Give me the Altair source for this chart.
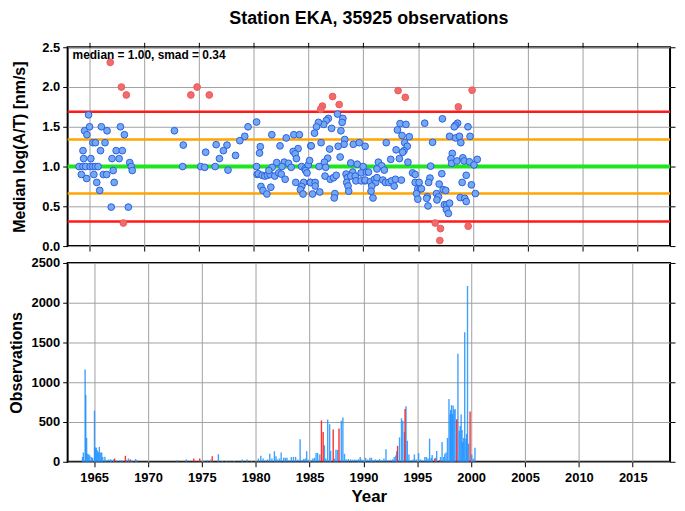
import altair as alt
import pandas as pd

FONT = "Liberation Sans"

# ---------------- scatter: monthly median log(A/T) ----------------
blue_year = [1964.91, 1964.55, 1965.0, 1964.76, 1966.08, 1966.6, 1967.82, 1968.18, 1965.3, 1965.54,
             1966.41, 1964.4, 1966.0, 1967.43, 1967.99, 1964.46, 1965.12, 1967.05, 1967.7, 1968.67,
             1964.04, 1964.4, 1964.64, 1965.06, 1965.3, 1965.54, 1965.78, 1968.81, 1968.9, 1967.16,
             1964.25, 1966.26, 1966.56, 1965.39, 1964.73, 1967.25, 1965.66, 1965.93, 1966.98, 1968.54,
             1972.75, 1973.56, 1973.5, 1975.15, 1975.51, 1976.47, 1977.64, 1975.6, 1976.56, 1977.55,
             1977.22, 1976.86, 1978.33, 1978.72, 1979.17, 1979.47,
             1980.25, 1980.25, 1980.3, 1981.64, 1982.96, 1983.65, 1984.16, 1980.59, 1980.52, 1982.39,
             1984.04, 1983.59, 1983.77, 1983.89, 1985.2, 1982.09, 1981.67, 1982.78, 1983.17, 1982.57,
             1983.41, 1984.37, 1984.67, 1984.97, 1985.09, 1980.4, 1980.76, 1981.0, 1981.24, 1981.49,
             1981.91, 1981.37, 1982.27, 1982.5, 1982.86, 1983.83, 1984.55, 1984.37, 1984.25, 1984.73,
             1984.85, 1985.15, 1980.65, 1980.83, 1981.19, 1981.55, 1984.49,
             1987.64, 1986.8, 1986.62, 1986.38, 1985.9, 1985.72, 1985.54, 1987.1, 1987.95, 1988.13,
             1988.06, 1988.3, 1988.24, 1987.7, 1986.92, 1986.14, 1985.24, 1989.08, 1989.62, 1990.16,
             1987.88, 1986.74, 1986.44, 1985.96, 1986.56, 1988.85, 1989.44, 1989.98, 1989.03, 1989.8,
             1990.29, 1988.42, 1988.54, 1988.85, 1989.26, 1986.5, 1986.98, 1987.28, 1987.52, 1985.18,
             1985.6, 1985.6, 1989.32, 1989.8, 1990.16, 1988.48, 1988.6, 1988.66, 1985.36, 1986.02,
             1987.4, 1987.34,
             1993.35, 1993.89, 1993.11, 1993.53, 1994.19, 1993.77, 1994.01, 1993.71, 1993.59, 1992.99,
             1992.09, 1992.5, 1993.29, 1994.07, 1991.37, 1991.67, 1991.91, 1990.47, 1991.24, 1994.49,
             1994.73, 1990.16, 1990.65, 1991.01, 1991.13, 1991.24, 1991.78, 1992.02, 1992.32, 1992.57,
             1992.93, 1993.47, 1992.81, 1990.77, 1990.7, 1990.88, 1994.73, 1995.09, 1994.97, 1995.2,
             1994.85, 1994.97,
             1997.22, 1995.6, 1998.6, 1998.42, 1998.3, 1999.55, 1997.87, 1998.42, 1998.77, 1999.74,
             1998.9, 1996.32, 1998.12, 1998.0, 1998.06, 1998.54, 1999.08, 1999.2, 1999.68, 2000.4,
             1996.14, 2000.1, 1997.16, 1999.39, 1996.08, 1995.96, 1996.92, 1999.02, 1999.86, 1997.28,
             1997.52, 1995.3, 1996.68, 1996.86, 1995.84, 1995.78, 2000.23, 1998.84, 1999.26, 1999.39,
             1995.9, 1997.4, 1997.62, 1997.87, 1997.58, 1997.76, 1996.72]
blue_val = [1.65, 1.45, 1.50, 1.40, 1.50, 1.45, 1.50, 1.40, 1.30, 1.30,
            1.30, 1.20, 1.20, 1.20, 1.20, 1.10, 1.10, 1.10, 1.10, 1.05,
            1.00, 1.00, 1.00, 1.00, 1.00, 1.00, 1.00, 1.00, 0.95, 0.95,
            0.90, 0.90, 0.90, 0.90, 0.85, 0.80, 0.80, 0.70, 0.49, 0.49,
            1.45, 1.27, 1.00, 1.00, 0.99, 1.00, 0.955, 1.18, 1.275, 1.27,
            1.20, 1.10, 1.14, 1.325, 1.38, 1.50,
            1.56, 1.00, 0.90, 1.40, 1.36, 1.40, 1.40, 1.25, 1.17, 1.26,
            1.225, 1.19, 1.16, 1.10, 1.26, 1.05, 0.99, 1.055, 1.04, 1.00,
            0.99, 1.00, 0.97, 1.02, 1.075, 0.91, 0.89, 0.88, 0.89, 0.90,
            0.88, 0.95, 0.92, 0.905, 0.84, 0.80, 0.80, 0.75, 0.71, 0.95,
            0.92, 0.80, 0.75, 0.70, 0.655, 0.74, 0.655,
            1.66, 1.605, 1.58, 1.53, 1.555, 1.50, 1.42, 1.48, 1.45, 1.605,
            1.555, 1.34, 1.28, 1.255, 1.22, 1.30, 1.26, 1.28, 1.30, 1.255,
            1.12, 1.105, 1.055, 1.00, 0.99, 1.045, 1.03, 1.00, 0.93, 0.92,
            0.93, 0.905, 0.86, 0.88, 0.88, 0.88, 0.84, 0.86, 0.89, 0.80,
            0.80, 0.755, 0.82, 0.82, 0.82, 0.80, 0.755, 0.69, 0.655, 0.68,
            0.66, 0.605,
            1.54, 1.53, 1.46, 1.39, 1.375, 1.30, 1.255, 1.20, 1.18, 1.21,
            1.30, 1.09, 1.10, 1.055, 1.055, 1.01, 0.955, 0.93, 0.97, 0.92,
            0.90, 0.83, 0.81, 0.84, 0.80, 0.86, 0.83, 0.80, 0.80, 0.82,
            0.84, 0.83, 0.755, 0.755, 0.69, 0.605, 0.80, 0.80, 0.72, 0.72,
            0.66, 0.59,
            1.60, 1.545, 1.545, 1.52, 1.50, 1.50, 1.38, 1.36, 1.38, 1.38,
            1.30, 1.305, 1.165, 1.10, 1.04, 1.07, 1.11, 1.07, 1.06, 1.09,
            1.005, 1.02, 0.91, 0.89, 0.855, 0.80, 0.78, 0.80, 0.77, 0.71,
            0.70, 0.72, 0.66, 0.62, 0.62, 0.60, 0.66, 0.61, 0.60, 0.56,
            0.505, 0.52, 0.52, 0.54, 0.46, 0.41, 0.58]

red_year = [1966.89, 1967.91, 1968.36, 1968.09, 1974.82, 1974.25, 1975.93, 1987.19, 1987.79, 1986.26,
            1986.1, 1993.17, 1993.83, 1999.93, 1998.67, 1996.56, 1997.04, 1996.98, 1999.57]
red_val = [2.31, 2.00, 1.90, 0.29, 2.00, 1.90, 1.90, 1.88, 1.78, 1.76,
           1.72, 1.955, 1.87, 1.96, 1.75, 0.29, 0.22, 0.07, 0.25]

median_line = [1.00]
smad1_lines = [1.34, 0.66]
smad2_lines = [1.69, 0.31]
annotation = ["median = 1.00, smad = 0.34"]

# ---------------- histogram: observations per month ----------------
bar_year = [1963.92, 1964.0, 1964.16, 1964.22, 1964.3, 1964.4, 1964.5, 1964.6, 1964.75, 1964.85,
            1965.03, 1965.1, 1965.2, 1965.3, 1965.4, 1965.48, 1965.6, 1965.7, 1965.8, 1966.0,
            1966.1, 1966.3, 1966.5, 1966.6, 1966.8, 1967.1, 1967.4, 1967.6, 1968.0, 1968.18,
            1968.5, 1968.85, 1968.95,
            1972.7, 1973.56, 1975.2, 1975.5, 1975.8, 1976.53, 1976.9, 1977.3, 1977.6, 1978.0,
            1978.75, 1979.2, 1979.6,
            1980.25, 1980.47, 1980.68, 1980.9, 1981.1, 1981.3, 1981.5, 1981.73, 1981.88, 1982.0,
            1982.2, 1982.36, 1982.6, 1982.75, 1982.9, 1983.1, 1983.3, 1983.5, 1983.7, 1983.9,
            1984.12, 1984.3, 1984.45, 1984.6, 1984.73, 1984.9, 1985.1, 1985.3, 1985.45, 1985.6,
            1985.75, 1985.95, 1986.38, 1986.5, 1986.68, 1986.86, 1986.95, 1987.3, 1987.45, 1987.6,
            1987.94, 1988.09, 1988.24, 1988.4, 1988.6, 1988.8, 1989.0, 1989.2, 1989.4, 1989.55,
            1989.7, 1989.85, 1990.05, 1990.2, 1990.4, 1990.6, 1990.75, 1990.9, 1991.1, 1991.3,
            1991.5, 1991.7, 1991.9, 1992.09, 1992.3, 1992.5, 1992.7, 1992.85, 1993.0, 1993.08,
            1993.35, 1993.53, 1993.65, 1993.8, 1993.95, 1994.07, 1994.22, 1994.4, 1994.6, 1994.73,
            1994.9, 1995.12, 1995.3, 1995.5, 1995.7, 1995.85, 1996.0, 1996.14, 1996.3, 1996.38,
            1996.7, 1996.8, 1997.15, 1997.3, 1997.45, 1997.55, 1997.67, 1997.8, 1997.94, 1998.04,
            1998.1, 1998.18, 1998.26, 1998.33, 1998.42, 1998.51, 1998.77, 1998.89, 1998.98, 1999.07,
            1999.15, 1999.22, 1999.3, 1999.4, 1999.51, 1999.58, 1999.66, 1999.75, 2000.05, 2000.2,
            2000.35]
bar_count = [60, 116, 1161, 841, 299, 100, 90, 80, 60, 50,
             642, 178, 178, 144, 120, 187, 116, 116, 60, 62,
             20, 30, 30, 25, 30, 15, 20, 15, 20, 41,
             15, 35, 20,
             20, 30, 15, 20, 25, 95, 10, 10, 8, 10,
             30, 30, 8,
             40, 75, 40, 20, 30, 100, 40, 133, 70, 30,
             40, 116, 50, 50, 50, 20, 60, 62, 62, 30,
             282, 20, 35, 40, 133, 25, 20, 40, 50, 110,
             110, 90, 207, 40, 531, 473, 137, 40, 150, 150,
             515, 556, 100, 30, 35, 30, 25, 30, 25, 30,
             60, 30, 20, 50, 30, 50, 50, 20, 30, 25,
             35, 20, 40, 158, 20, 25, 30, 60, 80, 133,
             307, 547, 515, 377, 697, 266, 93, 20, 30, 93,
             30, 108, 30, 20, 60, 60, 40, 290, 50, 85,
             50, 137, 60, 249, 60, 100, 116, 300, 788, 597,
             650, 713, 600, 705, 650, 664, 1360, 390, 450, 593,
             400, 249, 300, 1630, 290, 350, 2211, 228, 93, 40,
             176]
rbar_year = [1966.9, 1967.9, 1968.36, 1974.25, 1974.8, 1975.96, 1986.1, 1986.26, 1987.19, 1987.73,
             1993.17, 1993.86, 1996.6, 1997.07, 1998.66, 1999.9]
rbar_count = [41, 75, 30, 40, 40, 70, 520, 373, 406, 418,
              200, 664, 40, 20, 535, 631]

x_domain = [1963, 2018]
x_ticks = list(range(1965, 2016, 5))
y_top_ticks = [0.0, 0.5, 1.0, 1.5, 2.0, 2.5]
y_bot_ticks = [0, 500, 1000, 1500, 2000, 2500]

W = 606

xs = alt.Scale(domain=x_domain, nice=False, zero=False)
ys_top = alt.Scale(domain=[0, 2.5], nice=False)
ys_bot = alt.Scale(domain=[0, 2500], nice=False)

# ---- top panel ----
main_x_top = alt.Axis(values=x_ticks, labels=False, title=None, grid=True, ticks=True)
top_x_ticks = alt.Axis(orient="top", values=x_ticks, labels=False, title=None, grid=False, ticks=True)
main_y_top = alt.Axis(values=y_top_ticks, format=".1f", title="Median log(A/T) [nm/s]",
                      grid=True, titlePadding=14)
right_y_top = alt.Axis(orient="right", values=y_top_ticks, labels=False, grid=False, title=None)

blue_layer = alt.Chart(pd.DataFrame({"year": blue_year, "val": blue_val})).mark_point(
    filled=True, size=46, fill="#74a9f2", stroke="#2b5fe0", strokeWidth=1, opacity=1
).encode(
    x=alt.X("year:Q", scale=xs, axis=main_x_top),
    y=alt.Y("val:Q", scale=ys_top, axis=main_y_top),
)
red_layer = alt.Chart(pd.DataFrame({"year": red_year, "val": red_val})).mark_point(
    filled=True, size=46, fill="#f26b6b", stroke="#ee5a5a", strokeWidth=1, opacity=1
).encode(
    x=alt.X("year:Q", scale=xs, axis=top_x_ticks),
    y=alt.Y("val:Q", scale=ys_top, axis=None),
)
rule_red = alt.Chart(pd.DataFrame({"v": smad2_lines})).mark_rule(color="#ff1a1a", strokeWidth=2.5).encode(
    y=alt.Y("v:Q", scale=ys_top, axis=right_y_top),
)
rule_orange = alt.Chart(pd.DataFrame({"v": smad1_lines})).mark_rule(color="#ffa500", strokeWidth=2.5).encode(
    y=alt.Y("v:Q", scale=ys_top, axis=None),
)
rule_green = alt.Chart(pd.DataFrame({"v": median_line})).mark_rule(color="#1ee61e", strokeWidth=4).encode(
    y=alt.Y("v:Q", scale=ys_top, axis=None),
)
ann = alt.Chart(pd.DataFrame({"t": annotation})).mark_text(
    align="left", baseline="middle", font=FONT, fontWeight="bold", fontSize=12, color="black"
).encode(x=alt.value(5), y=alt.value(8), text="t:N")

top = alt.layer(rule_red, rule_orange, rule_green, blue_layer, red_layer, ann).resolve_axis(
    x="independent", y="independent"
).properties(
    width=W, height=200,
    title=alt.TitleParams("Station EKA, 35925 observations", font=FONT, fontSize=18,
                          fontWeight="bold", anchor="middle", frame="group", offset=13, color="black"),
)

# ---- bottom panel ----
blue_bars = alt.Chart(pd.DataFrame({"year": bar_year, "n": bar_count})).mark_bar(
    size=1.4, color="#1e90ff", opacity=0.85
).encode(
    x=alt.X("year:Q", scale=xs, axis=alt.Axis(values=x_ticks, format="d", title="Year",
                                              grid=True, labelPadding=5, titlePadding=4,
                                              titleFontSize=17)),
    y=alt.Y("n:Q", scale=ys_bot, axis=alt.Axis(values=y_bot_ticks, format="d", title="Observations",
                                               grid=True, titlePadding=6)),
)
red_bars = alt.Chart(pd.DataFrame({"year": rbar_year, "n": rbar_count})).mark_bar(
    size=1.4, color="#ff1a1a", opacity=0.9
).encode(
    x=alt.X("year:Q", scale=xs, axis=None),
    y=alt.Y("n:Q", scale=ys_bot,
            axis=alt.Axis(orient="right", values=y_bot_ticks, labels=False, grid=False, title=None)),
)
bottom = alt.layer(blue_bars, red_bars).resolve_axis(
    x="independent", y="independent"
).properties(width=W, height=200)

chart = alt.vconcat(top, bottom, spacing=2).properties(
    padding={"left": 0, "top": 0, "right": 0, "bottom": 0}
).configure_axis(
    labelFont=FONT, titleFont=FONT, labelFontWeight="bold", titleFontWeight="bold",
    labelFontSize=13, titleFontSize=16, labelColor="black", titleColor="black",
    tickColor="black", tickSize=5, tickWidth=1, domain=False, labelPadding=3,
    gridColor="#a0a0a0", gridWidth=1, gridOpacity=1,
).configure_view(stroke="black", strokeWidth=2)

chart.save("out.html", embed_options={"renderer": "svg", "actions": False})
